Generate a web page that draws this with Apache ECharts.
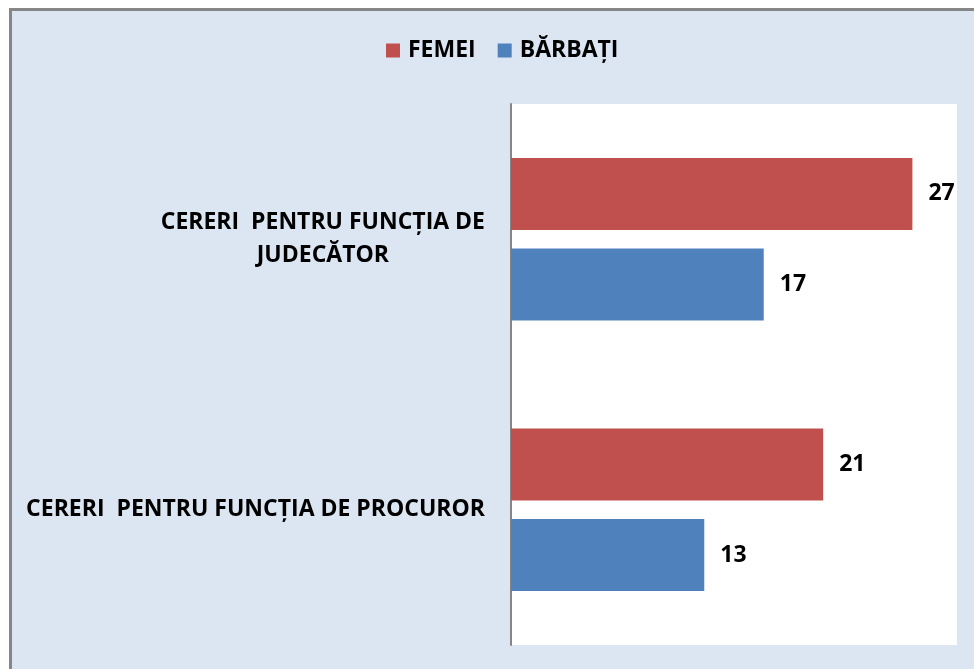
<!DOCTYPE html>
<html>
<head>
<meta charset="utf-8">
<script src="https://cdn.jsdelivr.net/npm/echarts@6/dist/echarts.min.js"></script>
<style>
  html, body { margin: 0; padding: 0; background: #fff; overflow: hidden; }
  #bg {
    position: absolute; left: 9px; top: 8px; width: 980px; height: 680px;
    background: #dce6f2; border-left: 3px solid #868686; border-top: 3px solid #868686;
  }
  #Chart { position: absolute; left: 0; top: 0; width: 974px; height: 669px; }
</style>
</head>
<body>
<div id="bg"></div>
<div id="Chart"></div>
<script>
var categories = ['CERERI  PENTRU FUNCȚIA DE\nJUDECĂTOR', 'CERERI  PENTRU FUNCȚIA DE PROCUROR'];
var seriesNames = ['FEMEI', 'BĂRBAȚI'];
var femei = [27, 21];
var barbati = [17, 13];

var FONT = '"Open Sans", sans-serif';

function chartBar() {
  var myChart = echarts.init(document.getElementById('Chart'));
  var labelStyle = {
    show: true,
    position: 'right',
    distance: 16,
    color: '#000',
    fontSize: 23,
    fontWeight: 'bold',
    fontFamily: FONT
  };
  var option = {
    animation: false,
    color: ['#c0504d', '#4f81bd'],
    legend: {
      left: 381,
      top: 34,
      icon: 'rect',
      itemWidth: 14,
      itemHeight: 14,
      itemGap: 22,
      textStyle: {
        color: '#000',
        fontSize: 23,
        fontWeight: 'bold',
        fontFamily: FONT,
        padding: [0, 0, 0, 3]
      },
      data: seriesNames
    },
    grid: {
      left: 511,
      right: 17,
      top: 104,
      bottom: 24,
      show: true,
      backgroundColor: '#fff',
      borderWidth: 0,
      outerBoundsMode: 'none'
    },
    xAxis: {
      type: 'value',
      min: 0,
      max: 30,
      show: false
    },
    yAxis: {
      type: 'category',
      inverse: true,
      data: categories,
      axisLine: {
        lineStyle: { color: '#868686', width: 2 }
      },
      axisTick: { show: false },
      axisLabel: {
        margin: 26,
        align: 'right',
        formatter: function (v) {
          return v.split('\n').map(function (s) {
            return '{c|' + s + '}'
          }).join('\n')
        },
        rich: {
          c: {
            align: 'center',
            color: '#000',
            fontSize: 23,
            fontWeight: 'bold',
            fontFamily: FONT,
            lineHeight: 33
          }
        }
      }
    },
    series: [{
      name: seriesNames[0],
      type: 'bar',
      data: femei,
      barWidth: 72,
      barGap: '26%',
      label: labelStyle
    }, {
      name: seriesNames[1],
      type: 'bar',
      data: barbati,
      barWidth: 72,
      barGap: '26%',
      label: labelStyle
    }]
  };
  myChart.setOption(option);
}
chartBar()
</script>
</body>
</html>
